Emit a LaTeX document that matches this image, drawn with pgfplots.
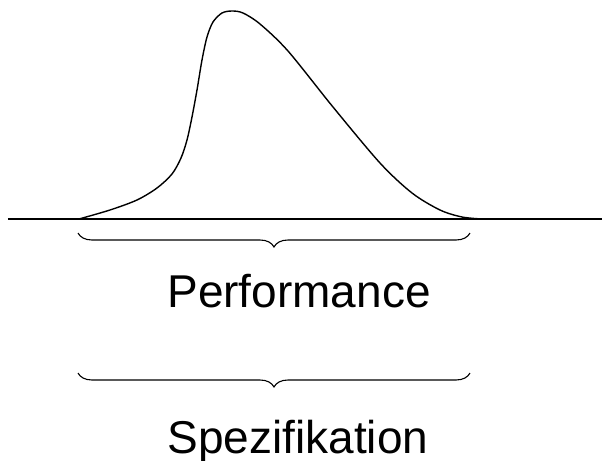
\documentclass[border=0pt]{standalone}
\usepackage{pgfplots}
\pgfplotsset{compat=1.18}
\usetikzlibrary{decorations.pathreplacing}
\usepackage{fontspec}
\setmainfont{Liberation Sans}

\begin{document}
\begin{tikzpicture}
\begin{axis}[
    scale only axis, width=301pt, height=230.5pt,
    xmin=0, xmax=602, ymin=0, ymax=461, y dir=reverse,
    hide axis, clip=false,
]
% baseline
\addplot[black, line width=0.8pt] coordinates {(8,219) (602,219)};
% skewed distribution (pixel coordinates)
\addplot[black, line width=0.7pt, smooth, tension=0.5] coordinates {
    (79,219) (110,210) (137,200) (157,188) (172,174) (181,158)
    (187,140) (192,117) (197,90) (202,60) (207,37) (213,22)
    (222,13) (232,11) (243,13) (260,24) (288,51)
    (333,107) (380,163) (412,193) (440,210)
    (462,217) (482,219)
};
\draw[decorate, decoration={brace, mirror, amplitude=7pt}, line width=0.55pt]
    (axis cs:78,233) -- (axis cs:470,233);
\draw[decorate, decoration={brace, mirror, amplitude=7pt}, line width=0.55pt]
    (axis cs:78,373) -- (axis cs:470,373);
\node[anchor=base, font=\fontsize{23}{27}\selectfont] at (axis cs:299,307) {Performance};
\node[anchor=base, font=\fontsize{23}{27}\selectfont] at (axis cs:298,453) {Spezifikation};
\end{axis}
\pgfresetboundingbox
\useasboundingbox (0,0) rectangle (301pt,230.5pt);
\end{tikzpicture}
\end{document}
